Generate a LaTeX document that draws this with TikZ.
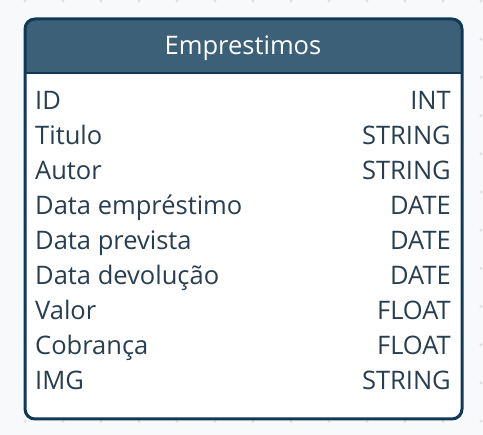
\documentclass[tikz,border=0pt]{standalone}
\usepackage{fontspec}
\setmainfont{Open Sans}
\usetikzlibrary{positioning}
\definecolor{BgFill}{RGB}{248,249,250}
\definecolor{BgDot}{RGB}{222,226,230}
\definecolor{HeadFill}{RGB}{61,96,121}
\definecolor{TabLine}{RGB}{16,57,88}
\definecolor{RowText}{RGB}{40,62,80}
\tikzset{
  tb_head/.style={
    anchor=base, font=\fontsize{25.5}{30}\selectfont,
    text=white, inner sep=0pt},
  tb_name/.style={
    anchor=base west, font=\fontsize{25.5}{30}\selectfont,
    text=RowText, inner sep=0pt},
  tb_type/.style={
    anchor=base east, font=\fontsize{25.5}{30}\selectfont,
    text=RowText, inner sep=0pt},
}
\begin{document}
\begin{tikzpicture}[x=1pt,y=-1pt]
\useasboundingbox (0,0) rectangle (483,435);
\fill[BgFill] (0,0) rectangle (483,435);
% grid dots
\foreach \i in {0,...,12}
  \foreach \j in {0,...,11}
    \fill[BgDot] (25+38*\i,1+38.2*\j) circle (1.6);
% table
\fill[white,rounded corners=10] (25,19) rectangle (462,419);
\fill[HeadFill,rounded corners=10] (25,19) -- (462,19) -- (462,73) -- (25,73) -- cycle;
\fill[HeadFill] (25,50) rectangle (462,73);
\draw[TabLine,line width=2.5] (25,73) -- (462,73);
\draw[TabLine,line width=3,rounded corners=10] (25,19) rectangle (462,419);
\node[tb_head] (title) at (243,55) {Emprestimos};
\foreach \nm/\tp [count=\k] in {ID/INT, Titulo/STRING, Autor/STRING,
    Data empréstimo/DATE, Data prevista/DATE, Data devolução/DATE,
    Valor/FLOAT, Cobrança/FLOAT, IMG/STRING}{
  \node[tb_name] (name\k) at (35,75.1+34.9*\k) {\nm};
  \node[tb_type] (type\k) at (451,75.1+34.9*\k) {\tp};
}
\end{tikzpicture}
\end{document}
